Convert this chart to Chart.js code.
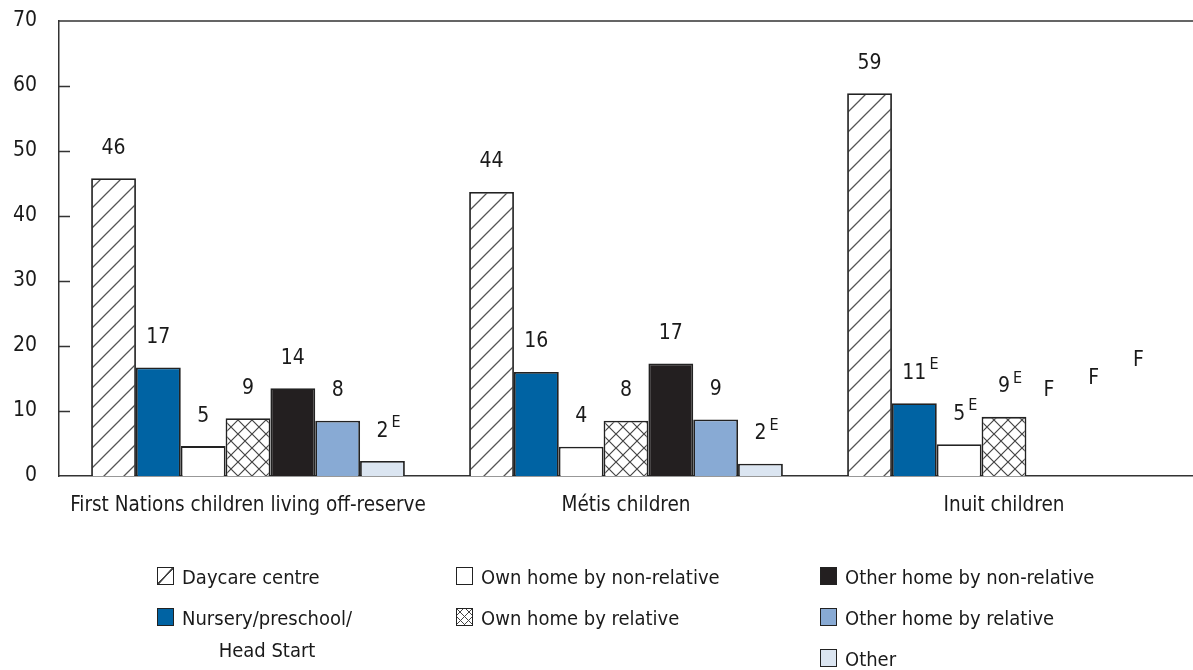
<!DOCTYPE html>
<html>
<head>
<meta charset="utf-8">
<script src="https://cdn.jsdelivr.net/npm/chart.js@4/dist/chart.umd.min.js"></script>
<style>
  html, body { margin: 0; padding: 0; background: #fff; }
  #wrap { position: relative; width: 1193px; height: 670px; }
  canvas { display: block; }
  #legend { position: absolute; left: 0; top: 0; width: 1193px; height: 670px; pointer-events: none;
    font-family: "Liberation Sans Narrow", "DejaVu Sans Condensed", "Arial Narrow", sans-serif;
    font-size: 20px; color: #1a1a1a; }
  .item { position: absolute; display: flex; align-items: flex-start; line-height: 32px; }
  .sw { width: 17px; height: 18px; border: 1.5px solid #222; margin-right: 8px; margin-top: 6px; box-sizing: border-box; flex: none; }
  .txt { text-align: center; white-space: nowrap; }
</style>
</head>
<body>
<div id="wrap">
  <canvas id="chart" width="1193" height="670"></canvas>
  <div id="legend"></div>
</div>
<script>
const groups = ["First Nations children living off-reserve", "Métis children", "Inuit children"];
const careTypes = [
  "Daycare centre",
  "Nursery/preschool/ Head Start",
  "Own home by non-relative",
  "Own home by relative",
  "Other home by non-relative",
  "Other home by relative",
  "Other",
];
// percentages per care type, in group order (null = too unreliable, shown as F)
const daycare = [45.8, 43.7, 58.9];
const nursery = [16.7, 16.0, 11.2];
const ownNonRelative = [4.6, 4.5, 4.9];
const ownRelative = [8.9, 8.5, 9.1];
const otherNonRelative = [13.5, 17.3, null];
const otherRelative = [8.5, 8.7, null];
const other = [2.3, 1.9, null];
// printed labels ("E" = use with caution, "F" = too unreliable)
const daycareLabels = ["46", "44", "59"];
const nurseryLabels = ["17", "16", "11E"];
const ownNonRelativeLabels = ["5", "4", "5E"];
const ownRelativeLabels = ["9", "8", "9E"];
const otherNonRelativeLabels = ["14", "17", "F"];
const otherRelativeLabels = ["8", "9", "F"];
const otherLabels = ["2E", "2E", "F"];
const yTicks = [0, 10, 20, 30, 40, 50, 60, 70];

const FONT = '"Liberation Sans Narrow", "DejaVu Sans Condensed", "Arial Narrow", sans-serif';

function hatchPattern() {
  const c = document.createElement("canvas");
  c.width = 20; c.height = 20;
  const g = c.getContext("2d");
  g.fillStyle = "#fff";
  g.fillRect(0, 0, 20, 20);
  g.strokeStyle = "#555";
  g.lineWidth = 1.3;
  g.beginPath();
  g.moveTo(-2, 22); g.lineTo(22, -2);
  g.moveTo(-22, 22); g.lineTo(2, -2);
  g.moveTo(18, 22); g.lineTo(42, -2);
  g.stroke();
  return g.createPattern(c, "repeat");
}

function crossPattern() {
  const c = document.createElement("canvas");
  c.width = 14; c.height = 14;
  const g = c.getContext("2d");
  g.fillStyle = "#fff";
  g.fillRect(0, 0, 14, 14);
  g.strokeStyle = "#444";
  g.lineWidth = 1.2;
  g.beginPath();
  g.moveTo(0, 0); g.lineTo(14, 14);
  g.moveTo(14, 0); g.lineTo(0, 14);
  g.stroke();
  return g.createPattern(c, "repeat");
}

const series = [
  { label: careTypes[0], data: daycare, labels: daycareLabels, bg: hatchPattern() },
  { label: careTypes[1], data: nursery, labels: nurseryLabels, bg: "#0063a3" },
  { label: careTypes[2], data: ownNonRelative, labels: ownNonRelativeLabels, bg: "#ffffff" },
  { label: careTypes[3], data: ownRelative, labels: ownRelativeLabels, bg: crossPattern() },
  { label: careTypes[4], data: otherNonRelative, labels: otherNonRelativeLabels, bg: "#231f20" },
  { label: careTypes[5], data: otherRelative, labels: otherRelativeLabels, bg: "#88aad4" },
  { label: careTypes[6], data: other, labels: otherLabels, bg: "#dbe5f1" },
];

// F labels sit at staggered heights in the original
const fAnchor = { 4: 8.6, 5: 10.4, 6: 13.2 };

const valueLabels = {
  id: "valueLabels",
  afterDatasetsDraw(chart) {
    const ctx = chart.ctx;
    const y = chart.scales.y;
    ctx.save();
    ctx.fillStyle = "#1a1a1a";
    ctx.textBaseline = "middle";
    chart.data.datasets.forEach((ds, di) => {
      const meta = chart.getDatasetMeta(di);
      meta.data.forEach((bar, i) => {
        const txt = series[di].labels[i];
        const v = ds.data[i];
        const top = v == null ? y.getPixelForValue(fAnchor[di]) : bar.y;
        const cy = top - 30;
        const num = txt.replace("E", "");
        ctx.font = "21px " + FONT;
        ctx.textAlign = "center";
        ctx.fillText(num, bar.x, cy);
        if (txt.endsWith("E") && txt !== "F") {
          const w = ctx.measureText(num).width;
          ctx.font = "16px " + FONT;
          ctx.textAlign = "left";
          ctx.fillText("E", bar.x + w / 2 + 3, cy - 8);
        }
      });
    });
    ctx.restore();
  },
};

const frame = {
  id: "frame",
  afterDraw(chart) {
    const ctx = chart.ctx;
    const a = chart.chartArea;
    const y = chart.scales.y;
    ctx.save();
    ctx.strokeStyle = "#333";
    ctx.lineWidth = 1.5;
    ctx.beginPath();
    ctx.moveTo(a.left, a.top);
    ctx.lineTo(a.right, a.top);
    yTicks.slice(1, -1).forEach((t) => {
      const py = Math.round(y.getPixelForValue(t)) + 0.5;
      ctx.moveTo(a.left, py);
      ctx.lineTo(a.left + 11, py);
    });
    ctx.stroke();
    ctx.restore();
  },
};

new Chart(document.getElementById("chart"), {
  type: "bar",
  data: {
    labels: groups,
    datasets: series.map((s) => ({
      label: s.label,
      data: s.data,
      backgroundColor: s.bg,
      borderColor: "#222",
      borderWidth: 1.8,
      borderSkipped: "bottom",
      categoryPercentage: 0.83,
      barPercentage: 1.0,
    })),
  },
  options: {
    responsive: false,
    animation: false,
    layout: { padding: { top: 21, right: 0, left: 0, bottom: 0 } },
    plugins: {
      legend: { display: false },
      tooltip: { enabled: false },
    },
    scales: {
      x: {
        grid: { display: false, drawTicks: false },
        border: { display: true, color: "#333", width: 1.5 },
        ticks: { color: "#1a1a1a", font: { family: FONT, size: 20.5 }, padding: 17 },
        afterFit(scale) { scale.height = 194; },
      },
      y: {
        min: 0,
        max: 70,
        afterBuildTicks(scale) { scale.ticks = yTicks.map((v) => ({ value: v })); },
        grid: { display: false, drawTicks: false },
        border: { display: true, color: "#333", width: 1.5 },
        ticks: { color: "#1a1a1a", font: { family: FONT, size: 21 }, padding: 22 },
        afterFit(scale) {
          scale.width = 59;
          scale.paddingTop = 0;
          scale.paddingBottom = 0;
        },
      },
    },
  },
  plugins: [valueLabels, frame],
});

// legend laid out as in the original (3 columns)
const legendItems = [
  { i: 0, x: 157, y: 561, css: "background: linear-gradient(to bottom right, #fff 45%, #444 47%, #444 53%, #fff 55%);" },
  { i: 1, x: 157, y: 602, css: "background:#0063a3;", text: "Nursery/preschool/<br>Head Start" },
  { i: 2, x: 456, y: 561, css: "background:#fff;" },
  { i: 3, x: 456, y: 602, css: "background: repeating-linear-gradient(45deg, transparent 0 5px, #444 5px 6px), repeating-linear-gradient(-45deg, #fff 0 5px, #444 5px 6px);" },
  { i: 4, x: 820, y: 561, css: "background:#231f20;" },
  { i: 5, x: 820, y: 602, css: "background:#88aad4;" },
  { i: 6, x: 820, y: 643, css: "background:#dbe5f1;" },
];
const legendEl = document.getElementById("legend");
legendItems.forEach((it) => {
  const d = document.createElement("div");
  d.className = "item";
  d.style.left = it.x + "px";
  d.style.top = it.y + "px";
  d.innerHTML = '<div class="sw" style="' + it.css + '"></div><div class="txt">' + (it.text || careTypes[it.i]) + "</div>";
  legendEl.appendChild(d);
});
</script>
</body>
</html>
